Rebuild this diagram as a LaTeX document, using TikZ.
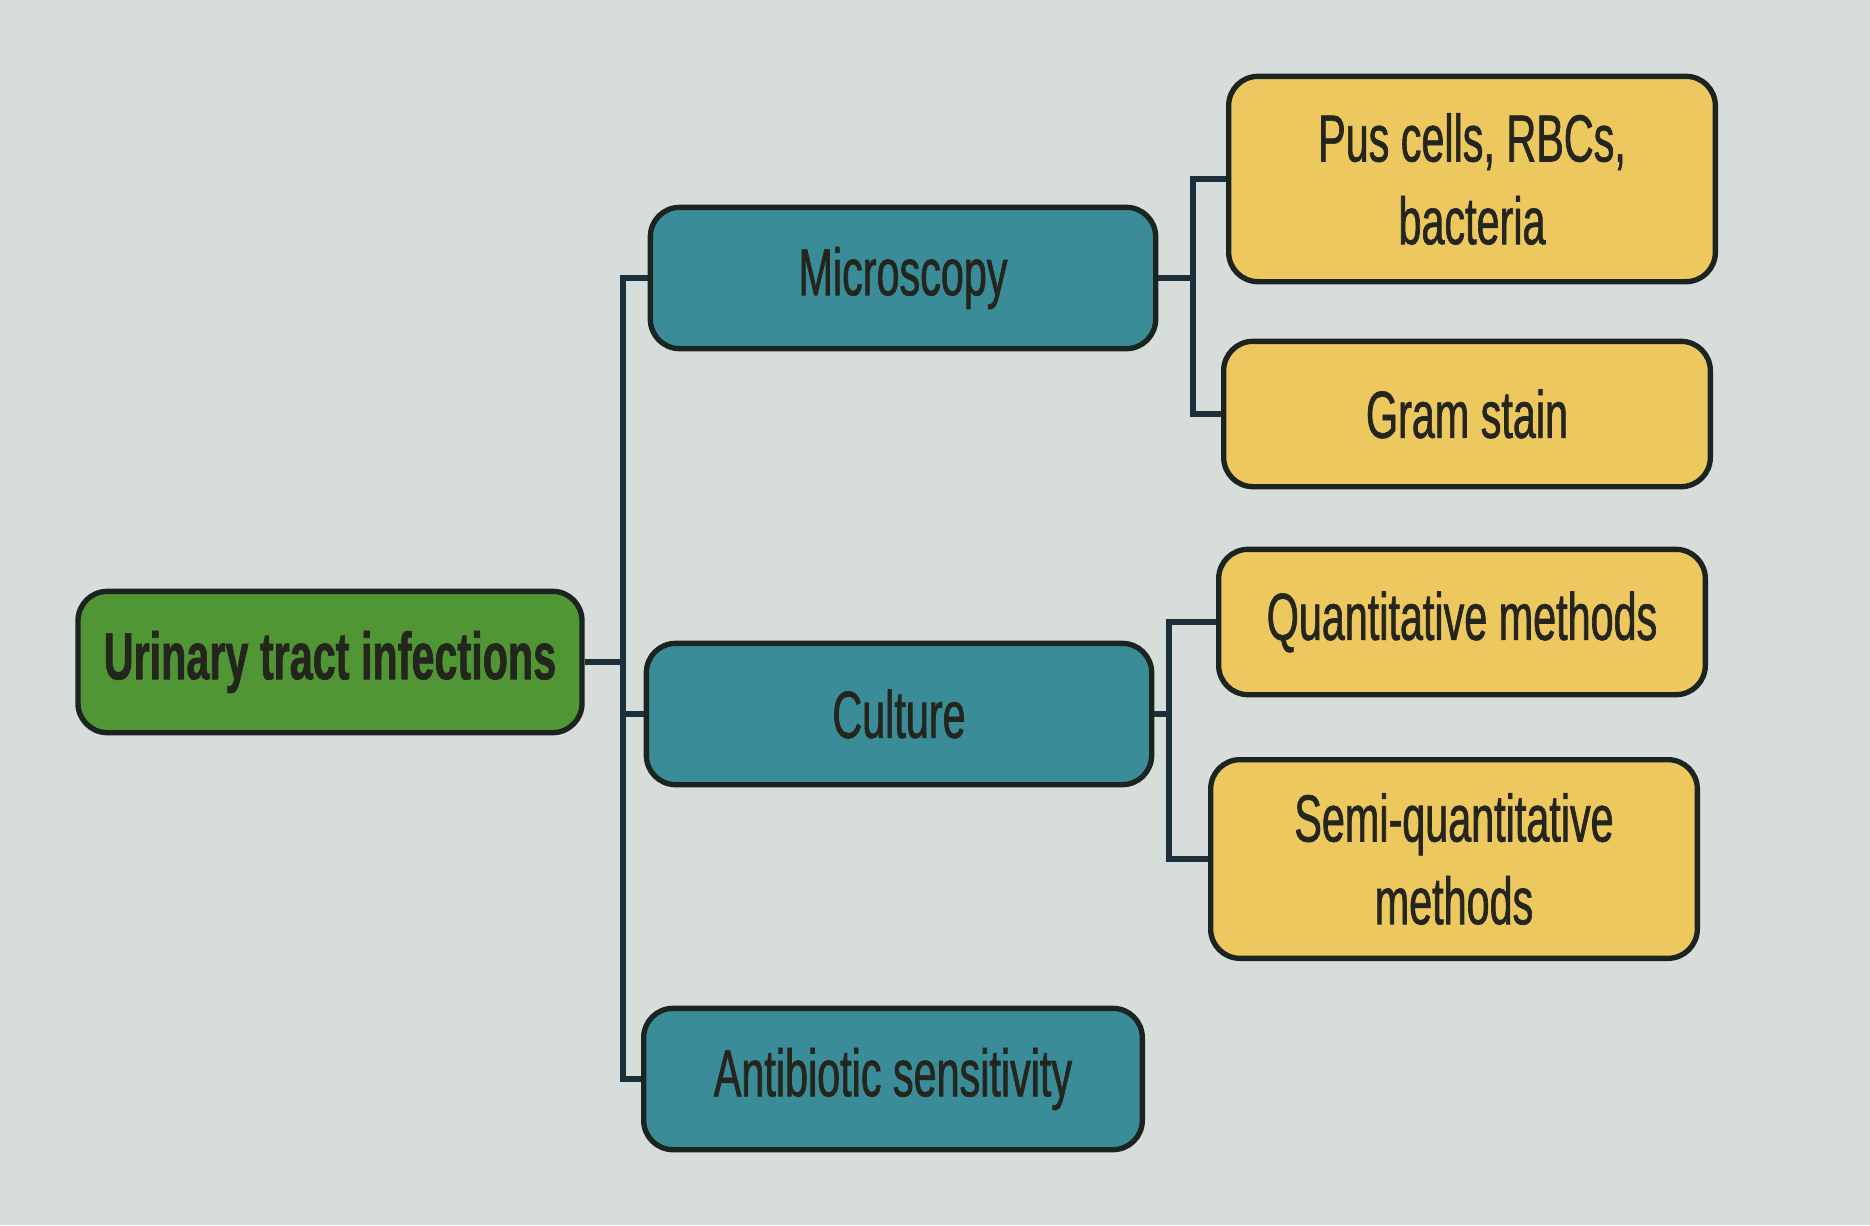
\documentclass[tikz,border=0pt]{standalone}
\usepackage{fontspec}
\setmainfont{Liberation Sans}[FakeStretch=0.62]
\newfontfamily\labelfont{Liberation Sans}[FakeStretch=0.62, FakeBold=1]
\usepackage{tikz}

\begin{document}
\begin{tikzpicture}[x=0.75pt,y=0.75pt,yscale=-1,xscale=1,
  box/.style={draw={rgb, 255:red, 28; green, 36; blue, 32 }, line width=4pt, rounded corners=22pt,
    text={rgb, 255:red, 36; green, 38; blue, 30 }, align=center, inner sep=0.75pt,
    font=\labelfont\fontsize{50}{62}\selectfont},
  rootbox/.style={box, fill={rgb, 255:red, 80; green, 150; blue, 52 }, minimum width=378pt, minimum height=106pt},
  testbox/.style={box, fill={rgb, 255:red, 58; green, 140; blue, 152 }, minimum width=379pt, minimum height=106pt},
  itembox/.style={box, fill={rgb, 255:red, 236; green, 200; blue, 94 }, minimum width=365pt, minimum height=109pt},
  link/.style={draw={rgb, 255:red, 28; green, 48; blue, 60 }, line width=4.5pt}]
%set diagram size to the photo, 1870 x 1225
\path [fill={rgb, 255:red, 214; green, 221; blue, 219 }] (0,0) rectangle (1870,1225);

% Text Node
\draw (330,662) node [rootbox] (uti) {\textbf{Urinary tract infections}};
% Text Node
\draw (903,278) node [testbox] (mic) {Microscopy};
% Text Node
\draw (899,714) node [testbox] (cul) {Culture};
% Text Node
\draw (893,1079) node [testbox, minimum width=374pt] (abs) {Antibiotic sensitivity};
% Text Node
\draw (1472,179) node [itembox, minimum height=154pt] (pus) {Pus cells, RBCs,\\bacteria};
% Text Node
\draw (1467,414) node [itembox] (gram) {Gram stain};
% Text Node
\draw (1462,622) node [itembox] (qua) {Quantitative methods};
% Text Node
\draw (1454,859) node [itembox, minimum height=149pt] (semi) {Semi-quantitative\\methods};

%Straight Lines
\coordinate (sp) at (623,671);
\draw [link] (uti.east) -- (uti.east -| sp);
\draw [link] (mic.west) -| (sp) |- (abs.west);
\draw [link] (cul.west) -- (cul.west -| sp);
%Straight Lines
\coordinate (mj) at (1193,286);
\draw [link] (mic.east) -- (mic.east -| mj);
\draw [link] (pus.west) -| (mj) |- (gram.west);
%Straight Lines
\coordinate (cj) at (1169,722);
\draw [link] (cul.east) -- (cul.east -| cj);
\draw [link] (qua.west) -| (cj) |- (semi.west);

\end{tikzpicture}
\end{document}
